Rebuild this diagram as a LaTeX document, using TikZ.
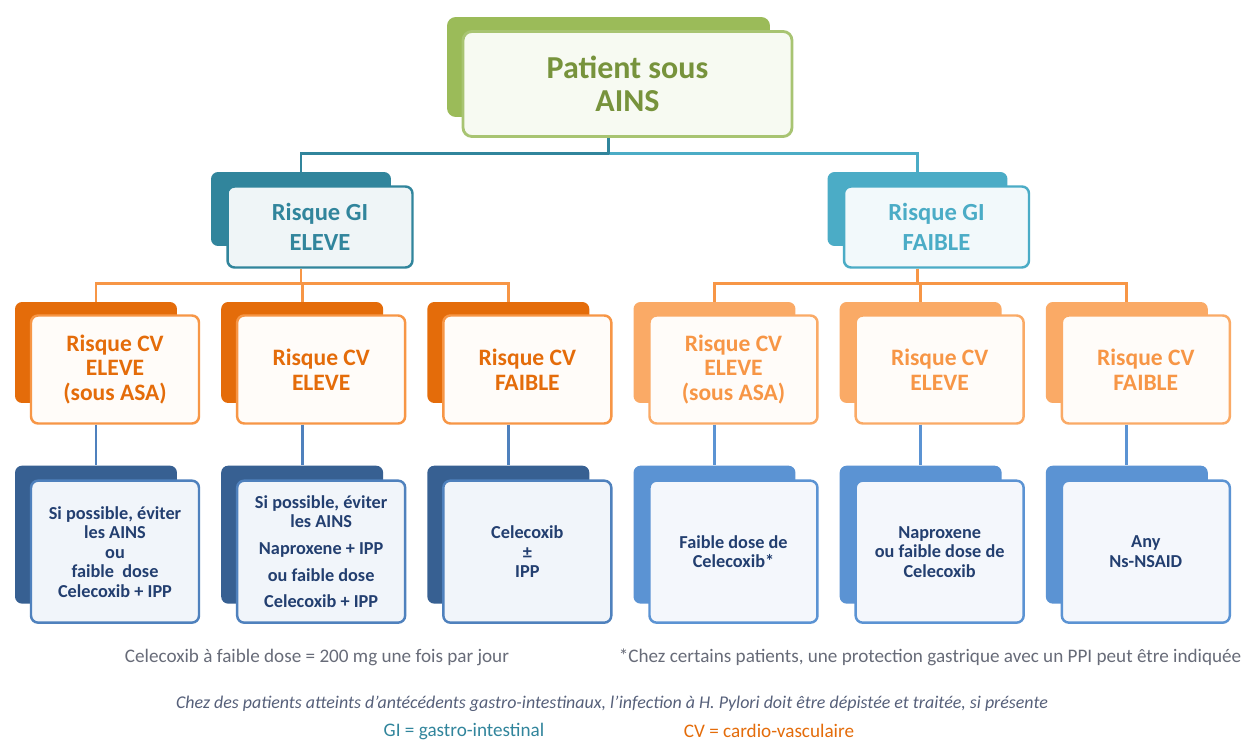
\documentclass[tikz,border=0pt]{standalone}
\usepackage{fontspec}
\setmainfont{Carlito}
\usetikzlibrary{positioning}
\definecolor{vertfond}{HTML}{9BBB59}
\definecolor{vertbord}{HTML}{A8C472}
\definecolor{verttexte}{HTML}{77933C}
\definecolor{tealfonce}{HTML}{31859C}
\definecolor{tealclair}{HTML}{4BACC6}
\definecolor{orfonce}{HTML}{E46C0A}
\definecolor{orclair}{HTML}{F79646}
\definecolor{orpale}{HTML}{FAAA66}
\definecolor{bleufonce}{HTML}{376092}
\definecolor{bleu}{HTML}{4F81BD}
\definecolor{bleuclair}{HTML}{5B93D3}
\definecolor{bleutexte}{HTML}{233F70}
\definecolor{gristexte}{HTML}{676B78}
\definecolor{grisbleu}{HTML}{56607A}
\tikzset{
    %Define style for back boxes
    rootback/.style={
           rectangle,
           rounded corners=5pt,
           fill=vertfond,
           inner sep=0pt,
           minimum width=6.46cm,
           minimum height=2cm},
    giback/.style={
           rectangle,
           rounded corners=4pt,
           fill=tealfonce,
           inner sep=0pt,
           minimum width=3.6cm,
           minimum height=1.48cm},
    cvback/.style={
           rectangle,
           rounded corners=4pt,
           fill=orfonce,
           inner sep=0pt,
           minimum width=3.24cm,
           minimum height=2.02cm},
    txback/.style={
           rectangle,
           rounded corners=4pt,
           fill=bleufonce,
           inner sep=0pt,
           minimum width=3.24cm,
           minimum height=2.76cm},
    %Define style for front boxes
    rootrect/.style={
           rectangle,
           rounded corners=5pt,
           draw=vertbord, line width=1.6pt,
           fill=vertfond!8!white,
           minimum width=6.58cm,
           minimum height=2.1cm,
           align=center,
           text=verttexte,
           font=\fontsize{18.2}{18.8}\selectfont\bfseries},
    girect/.style={
           rectangle,
           rounded corners=4pt,
           draw=tealfonce, line width=1.4pt,
           fill=tealfonce!8!white,
           minimum width=3.7cm,
           minimum height=1.62cm,
           align=center,
           text=tealfonce,
           font=\fontsize{14}{17}\selectfont\bfseries},
    cvrect/.style={
           rectangle,
           rounded corners=4pt,
           draw=orclair, line width=1.4pt,
           fill=orclair!3!white,
           minimum width=3.36cm,
           minimum height=2.16cm,
           align=center,
           text=orfonce,
           font=\fontsize{13.4}{14.2}\selectfont\bfseries},
    txrect/.style={
           rectangle,
           rounded corners=4pt,
           draw=bleu, line width=1.4pt,
           fill=bleu!8!white,
           minimum width=3.36cm,
           minimum height=2.84cm,
           align=center,
           text=bleutexte,
           font=\fontsize{10.4}{11.1}\selectfont\bfseries},
    note/.style={
           text=gristexte,
           inner sep=0pt,
           font=\fontsize{10.9}{12}\selectfont},
    % Define connector style
    lien/.style={
           line width=1.6pt}
}
\begin{document}
\begin{tikzpicture}[x=0.02cm,y=-0.02cm]
\path[use as bounding box, fill=white] (0,0) rectangle (1241,742);
% level 0
\node[rootback](rootb) at (608.5,67){};
\node[rootrect](root) at ([shift={(19,17)}]rootb.center){Patient sous\\AINS};
% level 1
\node[giback](gi1b) at (301,209){};
\node[girect](gi1) at ([shift={(19,18)}]gi1b.center){Risque GI\\ELEVE};
\node[giback, fill=tealclair](gi2b) at (917.5,209){};
\node[girect, draw=tealclair, fill=tealclair!7!white, text=tealclair](gi2) at ([shift={(19,18)}]gi2b.center){Risque GI\\FAIBLE};
% level 2
\node[cvback](cv1b) at (96,352.5){};
\node[cvback, right=0.87cm of cv1b](cv2b){};
\node[cvback, right=0.87cm of cv2b](cv3b){};
\node[cvback, fill=orpale, right=0.87cm of cv3b](cv4b){};
\node[cvback, fill=orpale, right=0.87cm of cv4b](cv5b){};
\node[cvback, fill=orpale, right=0.87cm of cv5b](cv6b){};
\node[cvrect](cv1) at ([shift={(19,17)}]cv1b.center){Risque CV\\ELEVE\\(sous ASA)};
\node[cvrect](cv2) at ([shift={(19,17)}]cv2b.center){Risque CV\\ELEVE};
\node[cvrect](cv3) at ([shift={(19,17)}]cv3b.center){Risque CV\\FAIBLE};
\node[cvrect, draw=orpale, text=orclair](cv4) at ([shift={(19,17)}]cv4b.center){Risque CV\\ELEVE\\(sous ASA)};
\node[cvrect, draw=orpale, text=orclair](cv5) at ([shift={(19,17)}]cv5b.center){Risque CV\\ELEVE};
\node[cvrect, draw=orpale, text=orclair](cv6) at ([shift={(19,17)}]cv6b.center){Risque CV\\FAIBLE};
% level 3
\node[txback, below=1.24cm of cv1b](tx1b){};
\node[txback, below=1.24cm of cv2b](tx2b){};
\node[txback, below=1.24cm of cv3b](tx3b){};
\node[txback, fill=bleuclair, below=1.24cm of cv4b](tx4b){};
\node[txback, fill=bleuclair, below=1.24cm of cv5b](tx5b){};
\node[txback, fill=bleuclair, below=1.24cm of cv6b](tx6b){};
\node[txrect](tx1) at ([shift={(19,17)}]tx1b.center){Si possible, éviter\\les AINS\\ou\\faible~ dose\\Celecoxib + IPP};
\node[txrect](tx2) at ([shift={(19,17)}]tx2b.center){Si possible, éviter\\les AINS\\[4pt]Naproxene + IPP\\[4pt]ou faible dose\\[4pt]Celecoxib + IPP};
\node[txrect](tx3) at ([shift={(19,17)}]tx3b.center){Celecoxib\\±\\IPP};
\node[txrect, draw=bleuclair, fill=bleuclair!7!white](tx4) at ([shift={(19,17)}]tx4b.center){Faible dose de\\Celecoxib*};
\node[txrect, draw=bleuclair, fill=bleuclair!7!white](tx5) at ([shift={(19,17)}]tx5b.center){Naproxene\\ou faible dose de\\Celecoxib};
\node[txrect, draw=bleuclair, fill=bleuclair!7!white](tx6) at ([shift={(19,17)}]tx6b.center){Any\\Ns-NSAID};
% notes
\node[note](dose) at (317,657){Celecoxib à faible dose = 200 mg une fois par jour};
\node[note](ppi) at (930,657){*Chez certains patients, une protection gastrique avec un PPI peut être indiquée};
\node[note, text=grisbleu, font=\fontsize{10.2}{12}\selectfont\itshape](pylori) at (612,704){Chez des patients atteints d'antécédents gastro-intestinaux, l'infection à H. Pylori doit être dépistée et traitée, si présente};
\node[note, text=tealfonce](leggi) at (464,731){GI = gastro-intestinal};
\node[note, text=orfonce](legcv) at (769,731){CV = cardio-vasculaire};
% connectors
\draw[lien, tealfonce] (rootb |- root.south) -- ++(0,16) -| (gi1b.north);
\draw[lien, tealclair] (rootb |- root.south) ++(0,16) -| (gi2b.north);
\draw[lien, tealfonce] (rootb |- root.south) -- ++(0,16);
\draw[lien, orclair] (gi1b |- gi1.south) -- ++(0,15) -| (cv1b.north);
\draw[lien, orclair] (gi1b |- gi1.south) -- ++(0,15) -| (cv2b.north);
\draw[lien, orclair] (gi1b |- gi1.south) -- ++(0,15) -| (cv3b.north);
\draw[lien, orclair] (gi2b |- gi2.south) -- ++(0,15) -| (cv4b.north);
\draw[lien, orclair] (gi2b |- gi2.south) -- ++(0,15) -| (cv5b.north);
\draw[lien, orclair] (gi2b |- gi2.south) -- ++(0,15) -| (cv6b.north);
\draw[lien, bleu] (cv1b |- cv1.south) -- (tx1b.north);
\draw[lien, bleu] (cv2b |- cv2.south) -- (tx2b.north);
\draw[lien, bleu] (cv3b |- cv3.south) -- (tx3b.north);
\draw[lien, bleuclair] (cv4b |- cv4.south) -- (tx4b.north);
\draw[lien, bleuclair] (cv5b |- cv5.south) -- (tx5b.north);
\draw[lien, bleuclair] (cv6b |- cv6.south) -- (tx6b.north);
\end{tikzpicture}
\end{document}
